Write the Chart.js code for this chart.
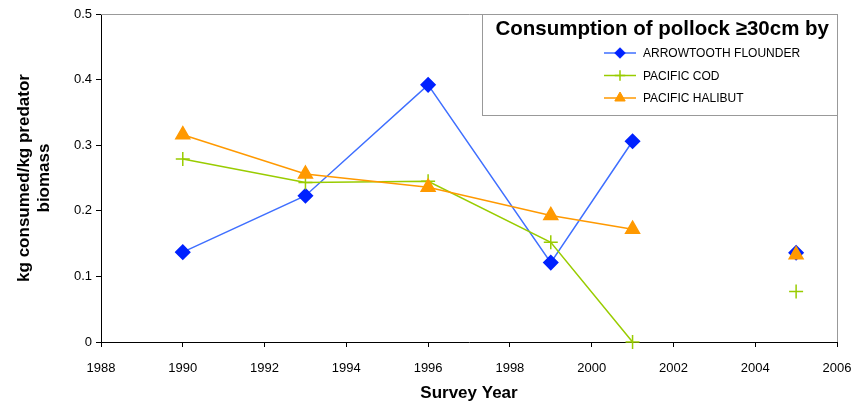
<!DOCTYPE html>
<html>
<head>
<meta charset="utf-8">
<script src="https://cdn.jsdelivr.net/npm/chart.js@4/dist/chart.umd.min.js"></script>
<style>
  body { margin: 0; background: #fff; }
  #wrap { width: 856px; height: 406px; }
</style>
</head>
<body>
<div id="wrap"><canvas id="c" width="856" height="406"></canvas></div>
<script>
// survey years (2003 is a gap, no survey -> lines break there)
const years = [1990, 1993, 1996, 1999, 2001, 2003, 2005];
const arrowtooth = [0.137, 0.223, 0.392, 0.121, 0.306, null, 0.136];
const pacificCod = [0.279, 0.243, 0.245, 0.152, 0.0, null, 0.077];
const halibut = [0.316, 0.256, 0.236, 0.193, 0.172, null, 0.133];
const seriesNames = ['ARROWTOOTH FLOUNDER', 'PACIFIC COD', 'PACIFIC HALIBUT'];
const legendTitle = 'Consumption of pollock \u226530cm by';

const FONT = 'Liberation Sans, Arial, sans-serif';

function pts(vals) {
    return years.map((y, i) => ({ x: y, y: vals[i] }));
}

// plot frame (gray right/top) + legend box drawn by hand
const framePlugin = {
    id: 'frame',
    afterDraw(chart) {
        const ctx = chart.ctx;
        const a = chart.chartArea;
        ctx.save();
        ctx.strokeStyle = '#999';
        ctx.lineWidth = 1;
        ctx.beginPath();
        ctx.moveTo(a.left, a.top + 0.5);
        ctx.lineTo(a.right + 0.5, a.top + 0.5);
        ctx.lineTo(a.right + 0.5, a.bottom);
        ctx.stroke();

        // legend box
        const bx = 482, by = 14, bw = a.right - 482, bh = 101;
        ctx.fillStyle = '#fff';
        ctx.fillRect(bx, by, bw, bh);
        ctx.strokeStyle = '#999';
        ctx.strokeRect(bx + 0.5, by + 0.5, bw, bh);

        ctx.fillStyle = '#000';
        ctx.font = 'bold 20.5px ' + FONT;
        ctx.textBaseline = 'middle';
        ctx.textAlign = 'right';
        ctx.fillText(legendTitle, a.right - 8, 29);

        ctx.textAlign = 'left';
        ctx.font = '12px ' + FONT;
        chart.data.datasets.forEach((ds, i) => {
            const yy = 53 + i * 22.5;
            ctx.strokeStyle = ds.borderColor;
            ctx.lineWidth = 1.5;
            ctx.beginPath();
            ctx.moveTo(604, yy);
            ctx.lineTo(636, yy);
            ctx.stroke();
            ctx.fillStyle = ds.backgroundColor;
            ctx.strokeStyle = ds.pointBorderColor;
            ctx.lineWidth = ds.pointBorderWidth || 1;
            Chart.helpers.drawPoint(ctx, {
                pointStyle: ds.pointStyle,
                radius: ds.pointRadius * 0.75,
                borderWidth: ds.pointBorderWidth || 1,
                rotation: 0
            }, 620, yy);
            ctx.fillStyle = '#000';
            ctx.fillText(seriesNames[i], 643, yy + 1);
        });
        ctx.restore();
    }
};

new Chart(document.getElementById('c'), {
    type: 'line',
    data: {
        datasets: [{
            label: seriesNames[0],
            data: pts(arrowtooth),
            borderColor: '#3f6fff',
            backgroundColor: '#0022ff',
            pointBorderColor: '#0022ff',
            pointStyle: 'rectRot',
            pointRadius: 7,
            borderWidth: 1.5,
            spanGaps: false,
            clip: false,
            order: 3
        }, {
            label: seriesNames[1],
            data: pts(pacificCod),
            borderColor: '#99cc00',
            backgroundColor: '#99cc00',
            pointBorderColor: '#99cc00',
            pointStyle: 'cross',
            pointRadius: 7,
            pointBorderWidth: 1.5,
            borderWidth: 1.5,
            spanGaps: false,
            clip: false,
            order: 2
        }, {
            label: seriesNames[2],
            data: pts(halibut),
            borderColor: '#ff9900',
            backgroundColor: '#ff9900',
            pointBorderColor: '#ff9900',
            pointStyle: 'triangle',
            pointRadius: 8,
            borderWidth: 1.5,
            spanGaps: false,
            clip: false,
            order: 1
        }]
    },
    options: {
        responsive: false,
        animation: false,
        layout: { padding: { left: 10, right: 19, top: 14, bottom: 2 } },
        plugins: { legend: { display: false }, tooltip: { enabled: false } },
        scales: {
            x: {
                type: 'linear',
                min: 1988, max: 2006,
                ticks: { stepSize: 2, color: '#000', font: { family: FONT, size: 13 }, padding: 14, maxRotation: 0,
                         callback: v => String(v) },
                grid: { drawOnChartArea: false, color: '#000', tickLength: 5 },
                border: { color: '#000', width: 1 },
                title: { display: true, text: 'Survey Year', color: '#000', font: { family: FONT, size: 17, weight: 'bold' }, padding: 0 },
                afterFit(s) { s.height = 62; s.paddingRight = 0; s.paddingLeft = 0; }
            },
            y: {
                min: 0, max: 0.5,
                ticks: { stepSize: 0.1, color: '#000', font: { family: FONT, size: 13 }, padding: 4 },
                grid: { drawOnChartArea: false, color: '#000', tickLength: 5 },
                border: { color: '#000', width: 1 },
                title: { display: true, text: ['kg consumed/kg predator', 'biomass'], color: '#000', font: { family: FONT, size: 17, weight: 'bold' }, padding: 4 },
                afterFit(s) { s.width = 91; s.paddingTop = 0; s.paddingBottom = 0; }
            }
        }
    },
    plugins: [framePlugin]
});
</script>
</body>
</html>
